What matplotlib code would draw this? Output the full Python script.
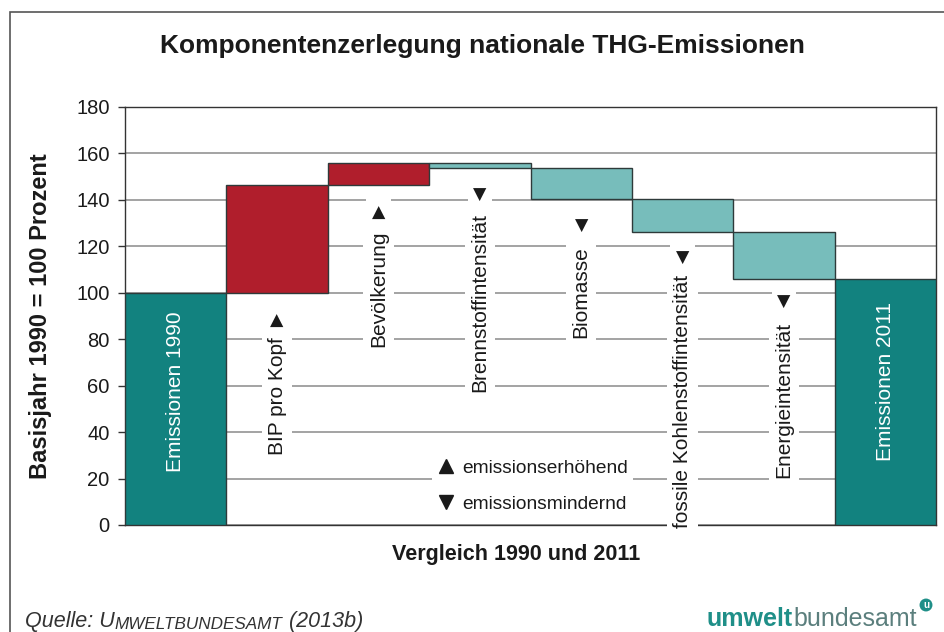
"""Komponentenzerlegung nationale THG-Emissionen (waterfall chart)."""

import matplotlib

matplotlib.use("Agg")
import matplotlib.pyplot as plt
from matplotlib.lines import Line2D
from matplotlib.patches import Rectangle

plt.rcParams["font.family"] = ["Liberation Sans", "DejaVu Sans"]

# Data (Basisjahr 1990 = 100 Prozent)
categories = [
    "Emissionen 1990",
    "BIP pro Kopf",
    "Bevölkerung",
    "Brennstoffintensität",
    "Biomasse",
    "fossile Kohlenstoffintensität",
    "Energieintensität",
    "Emissionen 2011",
]
emissions_1990 = 100.0
component_changes = [46.4, 9.5, -2.2, -13.3, -14.2, -20.3]
emissions_2011 = 105.9
y_ticks = [0, 20, 40, 60, 80, 100, 120, 140, 160, 180]

COLORS = {
    "total": "#12827f",
    "up": "#b01e2c",
    "down": "#77bdbb",
    "edge": "#2e3a3a",
    "grid": "#8a8a8a",
    "text": "#1a1a1a",
    "logo_a": "#1f8f88",
    "logo_b": "#5b7f7d",
}

# label layout: (text bottom, triangle centre) in data units
label_layout = [
    None,
    (30.1, 87.9),
    (76.7, 134.4),
    (57.3, 142.1),
    (80.5, 128.8),
    (-1.3, 115.0),
    (20.2, 96.0),
    None,
]

fig = plt.figure(figsize=(9.44, 6.32), dpi=100)
ax = fig.add_axes([125 / 944, 1 - 525 / 632, 811 / 944, 418 / 632])

# figure border (only left/top visible in the original crop)
fig.patches.append(
    Rectangle((10 / 944, -0.1), 1.2, 1.1 - 12 / 632, transform=fig.transFigure,
              fill=False, edgecolor="#555555", linewidth=1.2)
)

# waterfall bars
bottoms = []
heights = []
colors = []
level = emissions_1990
bottoms.append(0)
heights.append(emissions_1990)
colors.append(COLORS["total"])
for change in component_changes:
    if change >= 0:
        bottoms.append(level)
        heights.append(change)
        colors.append(COLORS["up"])
    else:
        bottoms.append(level + change)
        heights.append(-change)
        colors.append(COLORS["down"])
    level += change
bottoms.append(0)
heights.append(emissions_2011)
colors.append(COLORS["total"])

x = list(range(len(categories)))
ax.bar(x, heights, bottom=bottoms, width=1.0, color=colors,
       edgecolor=COLORS["edge"], linewidth=1.0, zorder=3)

ax.set_xlim(-0.5, len(categories) - 0.5)
ax.set_ylim(0, 180)
ax.set_yticks(y_ticks)
ax.set_xticks([])
ax.tick_params(axis="y", labelsize=14.5, length=5, width=1, color="#333333",
               pad=6, labelcolor=COLORS["text"])
for spine in ax.spines.values():
    spine.set_color("#333333")
    spine.set_linewidth(1.0)
ax.yaxis.grid(True, color=COLORS["grid"], linewidth=1.1)
ax.set_axisbelow(True)

# labels inside total bars
for i in (0, len(categories) - 1):
    ax.text(i, 57.3 if i == 0 else 62.0, categories[i], rotation=90,
            ha="center", va="center", color="white", fontsize=15, zorder=4)

# component labels with direction triangles
box = dict(facecolor="white", edgecolor="none", pad=4)
for i, layout in enumerate(label_layout):
    if layout is None:
        continue
    text_bottom, tri_y = layout
    ax.text(i, text_bottom, categories[i], rotation=90, ha="center",
            va="bottom", fontsize=15, color=COLORS["text"], bbox=box,
            zorder=6, clip_on=False)
    tri = "▲" if component_changes[i - 1] >= 0 else "▼"
    ax.text(i, tri_y, tri, ha="center", va="center", fontsize=12.5,
            family="DejaVu Sans", color=COLORS["text"], bbox=box, zorder=6)

# legend
handles = [
    Line2D([], [], marker="^", linestyle="none", color=COLORS["text"], markersize=10),
    Line2D([], [], marker="v", linestyle="none", color=COLORS["text"], markersize=10),
]
leg = ax.legend(handles, ["emissionserhöhend", "emissionsmindernd"],
                loc="center", bbox_to_anchor=(0.503, 0.093), fontsize=13.75,
                frameon=True, facecolor="white", edgecolor="none", framealpha=1,
                fancybox=False, handlelength=0.8, handletextpad=0.45,
                labelspacing=0.95, borderpad=0.3)
for t in leg.get_texts():
    t.set_color(COLORS["text"])

# axis labels and title
ax.set_ylabel("Basisjahr 1990 = 100 Prozent", fontsize=17, fontweight="bold",
              color=COLORS["text"])
ax.yaxis.set_label_coords(-0.09, 0.5)
ax.set_xlabel("Vergleich 1990 und 2011", fontsize=15.5, fontweight="bold",
              color=COLORS["text"])
ax.xaxis.set_label_coords(0.482, -0.045)
fig.text(482 / 944, 1 - 46 / 632, "Komponentenzerlegung nationale THG-Emissionen",
         ha="center", va="center", fontsize=19, fontweight="bold",
         color=COLORS["text"])

# source line (small caps imitation)
t1 = fig.text(25 / 944, 1 - 627 / 632, "Quelle: U", fontsize=15.5, style="italic",
              color="#333333", va="baseline")
t2 = ax.annotate("MWELTBUNDESAMT", xy=(1, 0), xycoords=t1, fontsize=12.3,
                 style="italic", color="#333333", va="bottom",
                 annotation_clip=False)
ax.annotate(" (2013b)", xy=(1, 0), xycoords=t2, fontsize=15.5, style="italic",
            color="#333333", va="bottom", annotation_clip=False)

# logo
l1 = fig.text(707 / 944, 1 - 626 / 632, "umwelt", fontsize=18, fontweight="bold",
              color=COLORS["logo_a"], va="baseline")
l2 = ax.annotate("bundesamt", xy=(1, 0), xycoords=l1, fontsize=18,
                 color=COLORS["logo_b"], va="bottom", annotation_clip=False)
fig.text(926 / 944, 1 - 605 / 632, "u", fontsize=7, fontweight="bold",
         color="white", ha="center", va="center",
         bbox=dict(boxstyle="circle,pad=0.15", facecolor=COLORS["logo_a"],
                   edgecolor="none"))

fig.savefig("out.png", dpi=100)
